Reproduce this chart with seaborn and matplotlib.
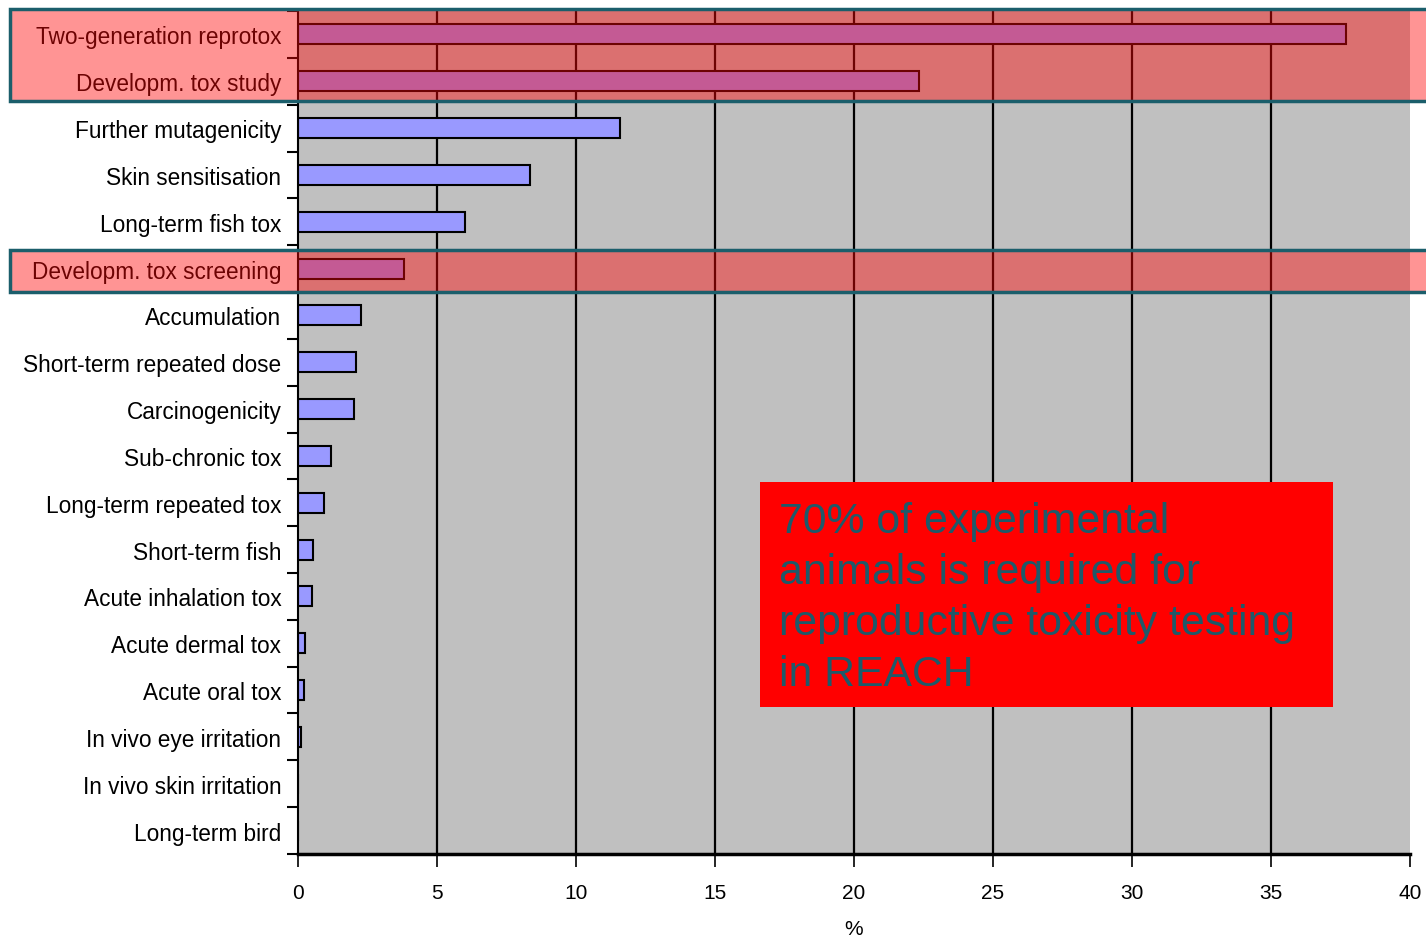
import matplotlib
matplotlib.use('Agg')
import matplotlib.pyplot as plt
import matplotlib.transforms as mtransforms
from matplotlib.patches import Rectangle
from matplotlib.ticker import MultipleLocator, FixedLocator
import seaborn as sns
import pandas as pd

# Data
categories = ['Two-generation reprotox', 'Developm. tox study', 'Further mutagenicity',
              'Skin sensitisation', 'Long-term fish tox', 'Developm. tox screening',
              'Accumulation', 'Short-term repeated dose', 'Carcinogenicity',
              'Sub-chronic tox', 'Long-term repeated tox', 'Short-term fish',
              'Acute inhalation tox', 'Acute dermal tox', 'Acute oral tox',
              'In vivo eye irritation', 'In vivo skin irritation', 'Long-term bird']
values = [37.7, 22.35, 11.6, 8.35, 6.0, 3.8, 2.25, 2.1, 2.0, 1.2, 0.95, 0.55,
          0.5, 0.25, 0.2, 0.1, 0.0, 0.0]
x_ticks = [0, 5, 10, 15, 20, 25, 30, 35, 40]
note = '70% of experimental\nanimals is required for\nreproductive toxicity testing\nin REACH'

df = pd.DataFrame({'test': categories, 'pct': values})

sns.set_style('white')
plt.rcParams['font.family'] = ['Liberation Sans', 'DejaVu Sans']

W, H = 1426, 937
fig = plt.figure(figsize=(W / 100, H / 100), dpi=100)
ax = fig.add_axes([298 / W, 1 - 855 / H, (1410 - 298) / W, (855 - 12) / H])
ax.set_facecolor('#C0C0C0')

sns.barplot(data=df, y='test', x='pct', orient='h', color='#9999FF',
            saturation=1, width=0.43, edgecolor='black', linewidth=1.5, ax=ax)

ax.set_xlim(0, 40)
ax.set_ylim(len(categories) - 0.5, -0.5)
ax.xaxis.set_major_locator(FixedLocator(x_ticks))
for x in x_ticks[1:-1]:
    ax.axvline(x, color='black', lw=1.6, zorder=0.5)

# y ticks: labels at centres, marks on category boundaries
ax.yaxis.set_minor_locator(MultipleLocator(1, offset=0.5))
ax.tick_params(axis='y', which='major', length=0, pad=12, labelsize=16.3,
               labelcolor='black')
ax.tick_params(axis='y', which='minor', length=8, width=1.5, color='black', left=True)
ax.tick_params(axis='x', length=9, width=1.2, color='black', pad=12, labelsize=15,
               labelcolor='black', bottom=True)
ax.set_ylabel('')
ax.set_xlabel('%', fontsize=15, labelpad=12, color='black')

for s in ['top', 'right']:
    ax.spines[s].set_visible(False)
ax.spines['left'].set_color('black')
ax.spines['left'].set_linewidth(1.5)
ax.spines['bottom'].set_color('black')
ax.spines['bottom'].set_linewidth(2.5)

# highlighted rows (reproductive toxicity)
blend = mtransforms.blended_transform_factory(fig.transFigure, ax.transData)
for y0, y1 in [(-0.54, 1.43), (4.6, 5.5)]:
    fig.add_artist(Rectangle((10 / W, y0), 1.0, y1 - y0, transform=blend,
                             facecolor=(1, 0.03, 0.03, 0.43), edgecolor='#1B5E6B',
                             linewidth=2.5, zorder=5))

# note box
fig.add_artist(Rectangle((760 / W, 1 - 708 / H), (1333 - 760) / W, (708 - 483) / H,
                         transform=fig.transFigure, facecolor='#FF0000',
                         edgecolor='none', zorder=6))
fig.text(779 / W, 1 - 502 / H, note, color='#1E5A6A', fontsize=30.8,
         va='top', ha='left', linespacing=1.36, zorder=7)

fig.savefig('out.png', dpi=100)
